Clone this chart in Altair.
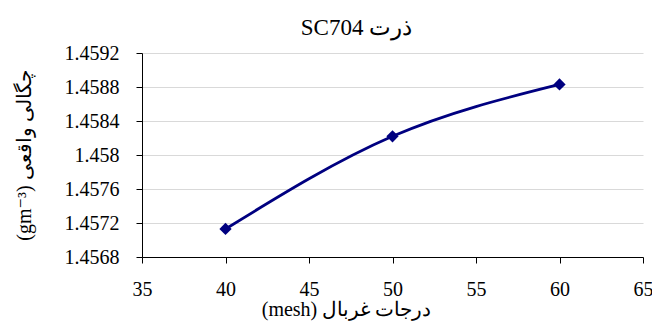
import altair as alt
import pandas as pd

mesh = [40, 50, 60]
density = [1.45713, 1.45822, 1.45883]
x_ticks = [35, 40, 45, 50, 55, 60, 65]
y_ticks = [1.4568, 1.4572, 1.4576, 1.458, 1.4584, 1.4588, 1.4592]

title_text = "SC704 ذرت"
x_title = "(mesh) درجات غربال"
y_title = "(gm⁻³) چگالی واقعی"

df = pd.DataFrame({"mesh": mesh, "density": density})
FONT = "Liberation Serif, Times New Roman, DejaVu Serif, serif"
COLOR = "#000080"

x = alt.X(
    "mesh:Q",
    scale=alt.Scale(domain=[35, 65], nice=False, zero=False),
    axis=alt.Axis(
        values=x_ticks, title=x_title, grid=False,
        labelFont=FONT, labelFontSize=20, labelColor="black", labelPadding=16,
        titleFont=FONT, titleFontSize=20, titleFontWeight="normal", titleColor="black",
        titlePadding=0, titleX=204, tickSize=6, tickColor="black", domainColor="black",
        labelFlush=False,
    ),
)
y = alt.Y(
    "density:Q",
    scale=alt.Scale(domain=[1.4568, 1.4592], nice=False, zero=False),
    axis=alt.Axis(
        values=y_ticks, format=".4~f", title=y_title, grid=True, gridColor="#d9d9d9",
        labelFont=FONT, labelFontSize=20, labelColor="black", labelPadding=17,
        titleFont=FONT, titleFontSize=20, titleFontWeight="normal", titleColor="black",
        titlePadding=30, tickSize=6, tickColor="black", domainColor="black",
        labelFlush=False,
    ),
)

base = alt.Chart(df).encode(x=x, y=y)
line = base.mark_line(color=COLOR, strokeWidth=2.8, interpolate="monotone")
pts = base.mark_point(shape="diamond", filled=True, size=150, color=COLOR, opacity=1)

chart = (
    (line + pts)
    .properties(
        width=501,
        height=204,
        autosize=alt.AutoSizeParams(type="none"),
        padding={"left": 142, "top": 53, "right": 9, "bottom": 71},
        title=alt.TitleParams(
            title_text, font=FONT, fontSize=23, fontWeight="normal",
            color="black", dx=-36, offset=3,
        ),
    )
    .configure_view(stroke=None)
)

chart.save("out.html", embed_options={"renderer": "svg", "actions": False})
